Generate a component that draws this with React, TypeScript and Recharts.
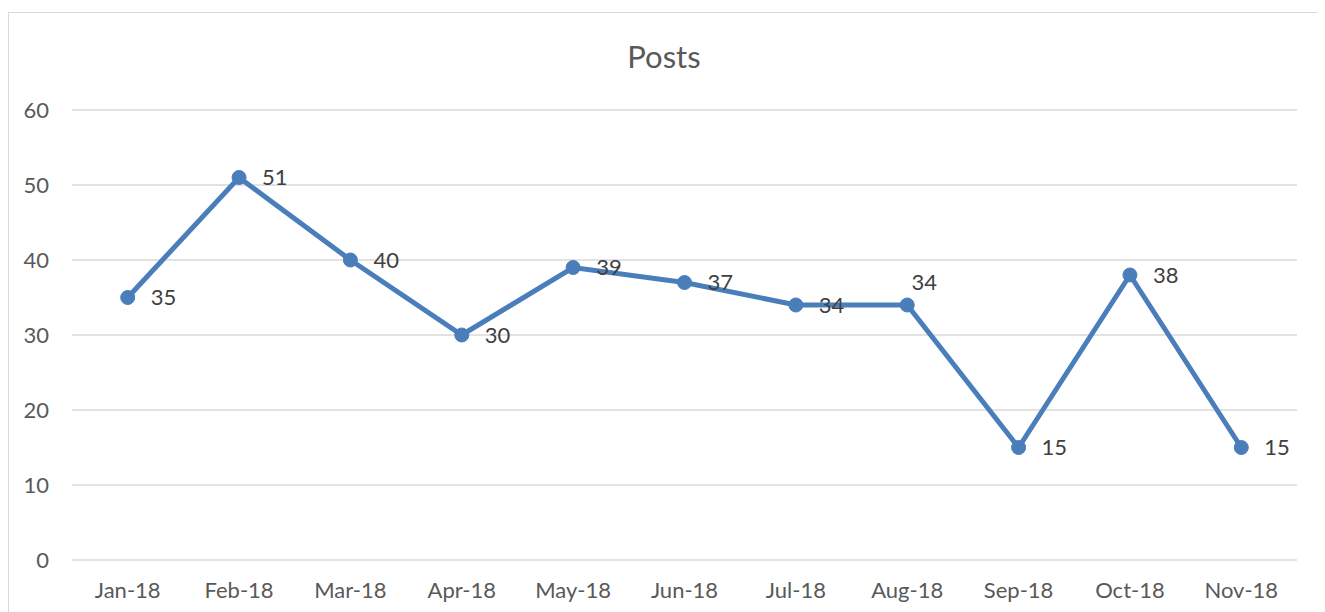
import React from 'react'
import { LineChart, Line, XAxis, YAxis, CartesianGrid, LabelList } from 'recharts'

const months = ['Jan-18', 'Feb-18', 'Mar-18', 'Apr-18', 'May-18', 'Jun-18', 'Jul-18', 'Aug-18', 'Sep-18', 'Oct-18', 'Nov-18']
const posts = [35, 51, 40, 30, 39, 37, 34, 34, 15, 38, 15]
const yTicks = [0, 10, 20, 30, 40, 50, 60]

const chartData = months.map((m, i) => ({ month: m, posts: posts[i] }))

const font = 'Lato, "Open Sans", sans-serif'

// Aug label sits above the point in the original, the rest sit to the right
const renderLabel = (props: any) => {
  const { x, y, value, index } = props
  const above = index === 7
  return (
    <text
      x={above ? x + 17 : x + 23}
      y={above ? y - 23 : y}
      dy="0.35em"
      textAnchor={above ? 'middle' : 'start'}
      fontSize={22}
      fontFamily={font}
      fill="#404040"
    >
      {value}
    </text>
  )
}

export default function App() {
  return (
    <div style={{ position: 'relative', marginTop: 4, width: 1320, height: 610, border: '1px solid #d9d9d9', background: '#fff' }}>
      <div
        style={{
          position: 'absolute',
          top: 24,
          left: 0,
          width: 1310,
          textAlign: 'center',
          fontFamily: font,
          fontSize: 31,
          color: '#595959',
        }}
      >
        Posts
      </div>
      <LineChart width={1310} height={620} data={chartData} margin={{ top: 97, right: 22, bottom: 43, left: 0 }}>
        <CartesianGrid vertical={false} stroke="#d9d9d9" strokeWidth={1.5} />
        <XAxis
          dataKey="month"
          axisLine={false}
          tickLine={false}
          tickSize={0}
          tickMargin={22}
          padding={{ left: 55.7, right: 55.7 }}
          tick={{ fill: '#595959', fontSize: 22, fontFamily: font }}
          interval={0}
        />
        <YAxis
          width={63}
          domain={[0, 60]}
          ticks={yTicks}
          axisLine={false}
          tickLine={false}
          tickSize={0}
          tickMargin={23}
          tick={{ fill: '#595959', fontSize: 22, fontFamily: font }}
        />
        <Line
          type="linear"
          dataKey="posts"
          stroke="#4a7ebb"
          strokeWidth={5}
          dot={{ r: 7, fill: '#4a7ebb', stroke: '#4a7ebb', strokeWidth: 1 }}
          isAnimationActive={false}
        >
          <LabelList dataKey="posts" content={renderLabel} />
        </Line>
      </LineChart>
    </div>
  )
}
